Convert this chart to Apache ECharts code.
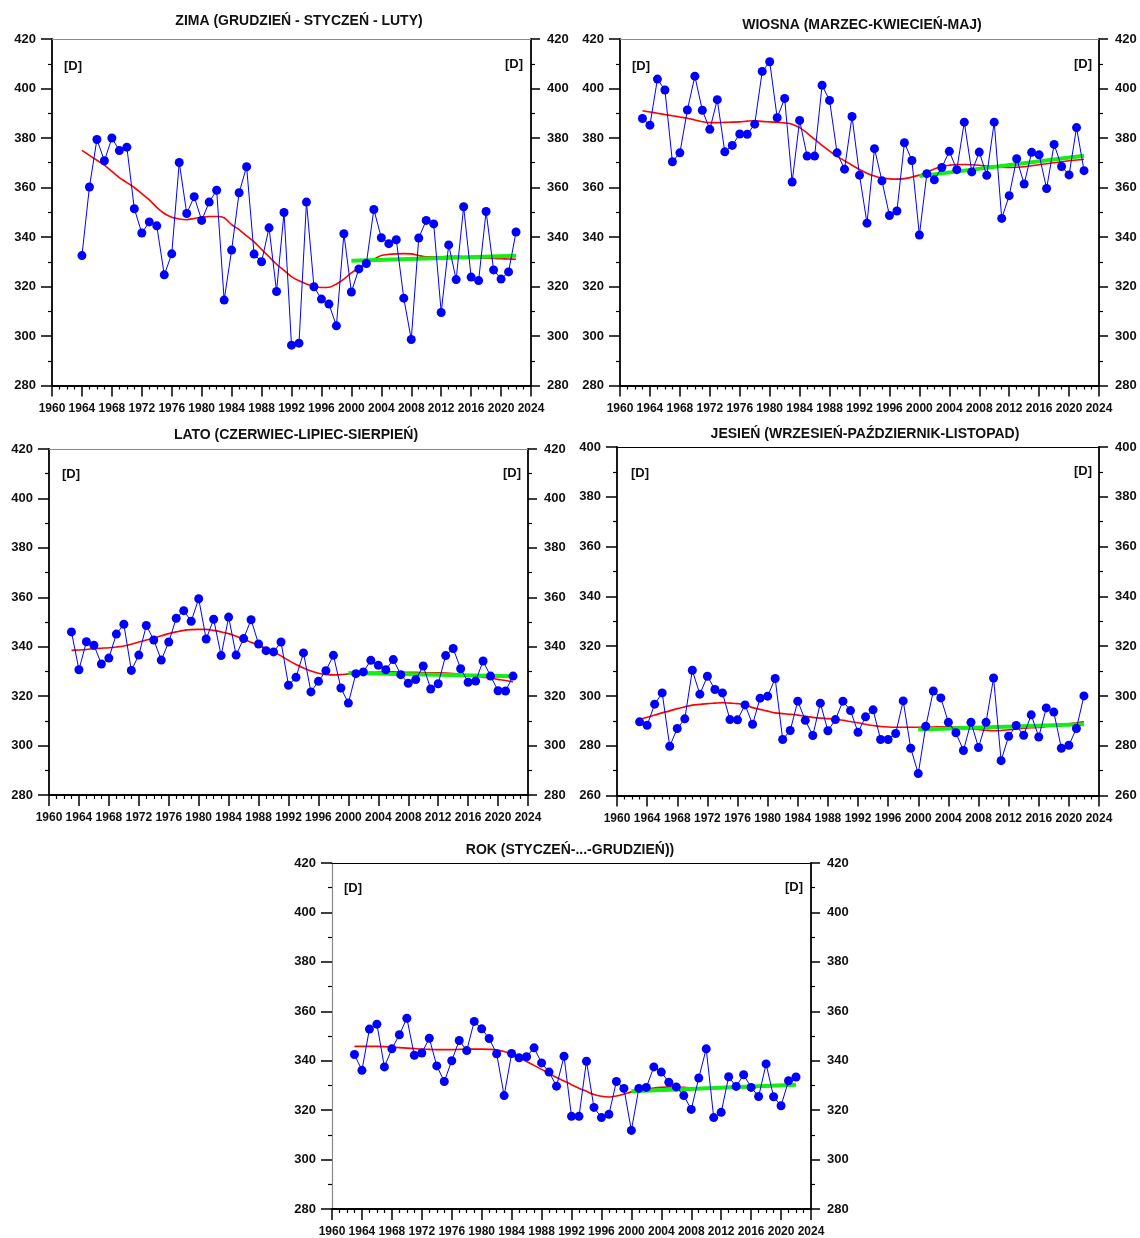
<!DOCTYPE html>
<html>
<head>
<meta charset="utf-8">
<script src="https://cdn.jsdelivr.net/npm/echarts@6/dist/echarts.min.js"></script>
<style>
html,body{margin:0;padding:0;background:#fff;}
#chart{width:1140px;height:1238px;}
</style>
</head>
<body>
<div id="chart"></div>
<script>
// ---------- DATA ----------
const xTickLabels = [1960,1964,1968,1972,1976,1980,1984,1988,1992,1996,2000,2004,2008,2012,2016,2020,2024];
const titles = ['ZIMA (GRUDZIEŃ - STYCZEŃ - LUTY)','WIOSNA (MARZEC-KWIECIEŃ-MAJ)','LATO (CZERWIEC-LIPIEC-SIERPIEŃ)','JESIEŃ (WRZESIEŃ-PAŹDZIERNIK-LISTOPAD)','ROK (STYCZEŃ-...-GRUDZIEŃ))'];
const unitLabel = '[D]';
const startYears = [1964, 1963, 1963, 1963, 1963];
const yRanges = [[280,420],[280,420],[280,420],[260,400],[280,420]];

const zimaValues = [332.5,360.2,379.4,370.8,380,374.9,376.3,351.4,341.6,346.1,
  344.5,324.7,333.2,370.1,349.5,356.3,346.7,354.1,358.9,314.5,
  334.7,357.9,368.4,333.1,330,343.7,318,349.9,296.3,297.1,
  354.1,319.9,314.9,312.9,304.1,341.3,317.8,327.1,329.3,351.1,
  339.7,337.3,338.9,315.3,298.6,339.6,346.7,345.3,309.5,336.8,
  322.8,352.2,323.8,322.4,350.3,326.7,323,325.9,342];
const zimaSmooth = [375,373,371,369,366.5,364,362,360,357.5,355,
  352,349.5,348,347.3,347,347.5,348,348.3,348.3,347.8,
  345,343,340.5,338,335,332,329,326.5,324,322.3,
  321,320,319.6,319.7,321,323,325.5,327.5,329.5,331,
  332.5,333,333.2,333.3,333.2,332.5,332,332,332,332.2,
  332.2,332,331.8,331.6,331.4,331.3,331.2,331.1,331];
const zimaTrend = [330.4, 332.4];

const wiosnaValues = [387.9,385.2,403.8,399.4,370.4,374,391.3,405,391.2,383.5,
  395.5,374.4,377,381.6,381.5,385.6,406.9,410.8,388.2,396,
  362.2,387.1,372.7,372.7,401.3,395.2,374,367.4,388.7,365,
  345.6,375.7,362.7,348.7,350.5,378.1,370.9,340.8,365.6,363.1,
  368.1,374.6,367.2,386.4,366.3,374.3,364.9,386.4,347.5,356.7,
  371.6,361.4,374.2,373.2,359.6,377.4,368.5,365.1,384.2,366.8];
const wiosnaSmooth = [391,390.5,390,389.5,389,388.5,388,387.3,386.6,386.2,
  386.2,386.3,386.4,386.5,386.8,387,386.7,386.5,386.3,386.1,
  385.6,384.2,382,379.5,377,374.7,372.6,370.8,369,367.3,
  365.8,364.6,363.8,363.5,363.4,363.6,364.2,365,366.3,367.5,
  368.5,369,369.3,369.3,369.2,369,368.7,368.4,368.2,368.1,
  368.2,368.4,368.8,369.2,369.6,370,370.4,370.8,371.1,371.4];
const wiosnaTrend = [364.6, 372.8];

const latoValues = [346,330.7,342,340.6,333,335.4,345.1,349.1,330.4,336.6,
  348.6,342.7,334.6,341.9,351.5,354.6,350.3,359.4,343.1,351.1,
  336.4,352,336.6,343.3,350.9,341.1,338.4,337.9,341.9,324.4,
  327.6,337.5,321.7,326,330.3,336.5,323.3,317.2,329.1,329.8,
  334.5,332.5,330.7,334.8,328.7,325.2,326.7,332.2,322.9,325,
  336.4,339.3,331.1,325.6,326.1,334.2,328.1,322.2,322.1,328.1];
const latoSmooth = [338.5,338.7,338.9,339.2,339.4,339.6,339.9,340.3,341,341.9,
  342.7,343.5,344.4,345.3,346,346.6,346.9,347,347,346.6,
  346,345.3,344.2,343,341.8,340.6,339.3,337.9,336.3,334.5,
  332.8,331.4,330.2,329.3,328.8,328.6,328.7,329,329.2,329.4,
  329.6,329.7,329.8,329.8,329.7,329.6,329.6,329.5,329.4,329.4,
  329.3,329.1,328.8,328.4,328.1,327.7,327.3,326.8,326.3,325.7];
const latoTrend = [329.4, 328];

const jesienValues = [289.6,288.2,296.7,301.2,279.8,286.9,290.8,310.3,300.7,307.9,
  302.6,301.2,290.5,290.4,296.4,288.6,299.1,299.9,307,282.5,
  286.1,297.9,290.2,284.1,297.1,286,290.5,297.9,294.1,285.4,
  291.6,294.4,282.5,282.5,284.9,298,279,268.8,287.8,302,
  299.2,289.4,285.2,278.1,289.4,279.3,289.4,307.2,274,283.8,
  288.1,284.2,292.4,283.5,295.2,293.5,279,280.2,286.9,300];
const jesienSmooth = [290.5,291.4,292.3,293.2,294,294.9,295.6,296.3,296.6,296.9,
  297.1,297.3,297.1,296.9,296.5,295.3,294.6,293.9,293.2,292.9,
  292.6,292.3,291.8,291.4,291.1,290.9,290.6,290.2,289.7,289.2,
  288.6,288.1,287.7,287.5,287.4,287.4,287.4,287.4,287.5,287.5,
  287.6,287.6,287.5,287.3,286.9,286.5,286.2,286,286.1,286.4,
  286.7,287,287.2,287.3,287.7,288.1,288.4,288.8,289.2,289.6];
const jesienTrend = [286.5, 288.6];

const rokValues = [342.5,336.1,352.8,354.8,337.5,344.8,350.5,357.2,342.2,343.1,
  349.1,337.9,331.6,340,348.2,344.1,355.9,352.9,349,342.8,
  325.9,342.9,341.2,341.6,345.2,339.1,335.4,329.7,341.8,317.5,
  317.5,339.8,321.1,317,318.3,331.6,328.8,311.8,328.8,329.2,
  337.5,335.4,331.3,329.4,325.9,320.3,333,344.8,317,319.1,
  333.5,329.6,334.3,329.2,325.5,338.7,325.4,321.8,331.9,333.4];
const rokSmooth = [345.8,345.8,345.8,345.8,345.7,345.5,345.3,345.1,344.9,344.7,
  344.6,344.5,344.5,344.5,344.6,344.7,344.7,344.7,344.6,344.4,
  343.7,342.7,341.3,339.7,338.1,336.5,334.8,333.2,331.8,330.3,
  328.9,327.6,326.3,325.6,325.3,325.7,326.5,327.4,328,328.5,
  328.9,329.2,329.4,329.4,329.2,329,328.9,328.8,328.8,328.9,
  329,329.2,329.2,329.2,329.3,329.5,329.7,329.9,330.1,330.3];
const rokTrend = [327.6, 330.3];

const trendYears = [2000, 2022];

const allValues = [zimaValues, wiosnaValues, latoValues, jesienValues, rokValues];
const allSmooth = [zimaSmooth, wiosnaSmooth, latoSmooth, jesienSmooth, rokSmooth];
const allTrend = [zimaTrend, wiosnaTrend, latoTrend, jesienTrend, rokTrend];

// ---------- LAYOUT ----------
const FONT = '"Liberation Sans", Arial, sans-serif';
const grids = [
  {left: 52, top: 39, width: 479, height: 346.5},
  {left: 620, top: 39, width: 479, height: 346.5},
  {left: 49, top: 449, width: 479, height: 346},
  {left: 617, top: 447, width: 482, height: 348.5},
  {left: 332, top: 863, width: 479, height: 346}
];
const titlePos = [[299,21],[862,25],[296,435],[865,434],[570,850]];
const dLeft = [[64,66],[632,66],[62,474],[631,473],[344,888]];
const dRight = [[523,64],[1092,64],[521,473],[1092,471],[803,887]];
const topLineColor = ['#8a8a8a','#8a8a8a','#8a8a8a','#000','#000'];
const leftAxisColor = ['#000','#000','#000','#000','#8a8a8a'];

const xAxes = [], yAxes = [], series = [], graphics = [];
grids.forEach((g, i) => {
  xAxes.push({
    gridIndex: i, type: 'value', position: 'bottom',
    min: 1960, max: 2024, interval: 4,
    axisLine: {show: true, onZero: false, lineStyle: {color: '#000', width: 2}},
    axisTick: {show: true, length: 11, lineStyle: {color: '#000', width: 1.5}},
    minorTick: {show: true, splitNumber: 4, length: 4, lineStyle: {color: '#000', width: 1.2}},
    axisLabel: {show: true, margin: 17, fontFamily: FONT, fontWeight: 'bold', fontSize: 12, color: '#111',
      formatter: v => xTickLabels.indexOf(v) >= 0 ? String(v) : ''},
    splitLine: {show: false}
  });
  xAxes.push({
    gridIndex: i, type: 'value', position: 'top', min: 1960, max: 2024,
    axisLine: {show: true, onZero: false, lineStyle: {color: topLineColor[i], width: 1.2}},
    axisTick: {show: false}, axisLabel: {show: false}, splitLine: {show: false}
  });
  const [ymin, ymax] = yRanges[i];
  ['left','right'].forEach(pos => {
    const lc = pos === 'left' ? leftAxisColor[i] : '#000';
    yAxes.push({
      gridIndex: i, type: 'value', position: pos,
      min: ymin, max: ymax, interval: 20,
      axisLine: {show: true, onZero: false, lineStyle: {color: lc, width: lc === '#000' ? 1.8 : 1.2}},
      axisTick: {show: true, length: pos === 'left' ? 11 : 9, lineStyle: {color: '#000', width: 1.5}},
      minorTick: {show: true, splitNumber: 2, length: 4, lineStyle: {color: '#000', width: 1.2}},
      axisLabel: {show: true, margin: 16, fontFamily: FONT, fontWeight: 'bold', fontSize: 13, color: '#111',
        formatter: v => String(v)},
      splitLine: {show: false}
    });
  });
  const sy = startYears[i];
  const vals = allValues[i], sm = allSmooth[i], tr = allTrend[i];
  series.push({
    type: 'line', xAxisIndex: 2*i, yAxisIndex: 2*i, z: 2,
    data: sm.map((v, k) => [sy + k, v]),
    showSymbol: false, smooth: 0.3,
    lineStyle: {color: '#FF0000', width: 1.6}, silent: true
  });
  series.push({
    type: 'line', xAxisIndex: 2*i, yAxisIndex: 2*i, z: 3,
    data: trendYears.map((y, k) => [y, tr[k]]),
    showSymbol: false,
    lineStyle: {color: '#14EE14', width: 4}, silent: true
  });
  series.push({
    type: 'line', xAxisIndex: 2*i, yAxisIndex: 2*i, z: 4,
    data: vals.map((v, k) => [sy + k, v]),
    symbol: 'circle', symbolSize: 9, showSymbol: true,
    itemStyle: {color: '#0000FF'},
    lineStyle: {color: '#0000FF', width: 1}, silent: true
  });
  graphics.push({type: 'text', x: titlePos[i][0], y: titlePos[i][1],
    style: {text: titles[i], font: 'bold 14px ' + FONT, fill: '#111', textAlign: 'center', textVerticalAlign: 'middle'}});
  graphics.push({type: 'text', x: dLeft[i][0], y: dLeft[i][1],
    style: {text: unitLabel, font: 'bold 13px ' + FONT, fill: '#111', textAlign: 'left', textVerticalAlign: 'middle'}});
  graphics.push({type: 'text', x: dRight[i][0], y: dRight[i][1],
    style: {text: unitLabel, font: 'bold 13px ' + FONT, fill: '#111', textAlign: 'right', textVerticalAlign: 'middle'}});
});

const chart = echarts.init(document.getElementById('chart'), null, {renderer: 'canvas'});
chart.setOption({
  animation: false,
  backgroundColor: '#fff',
  grid: grids.map(g => Object.assign({containLabel: false}, g)),
  xAxis: xAxes,
  yAxis: yAxes,
  series: series,
  graphic: graphics
});
</script>
</body>
</html>
